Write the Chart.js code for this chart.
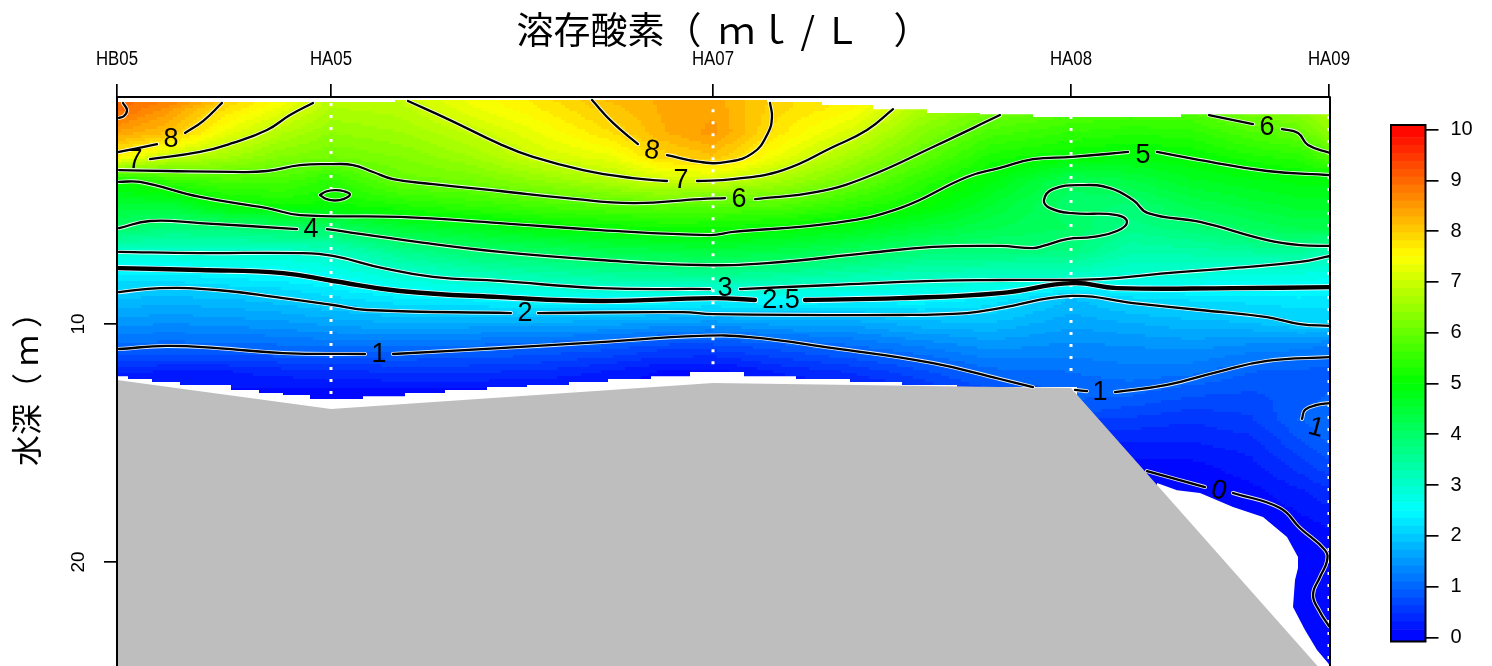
<!DOCTYPE html>
<html>
<head>
<meta charset="utf-8">
<title>溶存酸素</title>
<script src="https://cdn.jsdelivr.net/npm/chart.js@4/dist/chart.umd.min.js"></script>
<style>
  html, body { margin: 0; padding: 0; background: #fff; overflow: hidden; }
  #section { position: absolute; left: 0; top: 0; }
  #colorbar { position: absolute; left: 1380px; top: 0; }
</style>
</head>
<body>
<canvas id="section" width="1492" height="666"></canvas>
<canvas id="colorbar" width="112" height="666"></canvas>
<script>
// ===== AXES =====
const stationNames = ['HB05', 'HA05', 'HA07', 'HA08', 'HA09'];
const stationDist = [0, 214, 596, 954, 1212];
const depthTicks = [10, 20];
const xMin = 0, xMax = 1213;
const depthMin = 0.46, depthMax = 24.37;
const colorTicks = [0, 1, 2, 3, 4, 5, 6, 7, 8, 9, 10];

// white dotted sampling casts (top and bottom depth per station, HB05 has none)
const castDist = [214, 596, 954, 1212];
const castTop = [0.71, 0.97, 1.26, 1.26];
const castBottom = [13.1, 12.0, 12.35, 24.37];

// ===== FIELD =====
const gridDepth = [0.5, 1, 2, 3, 4, 5, 6, 7, 8, 9, 10, 11, 12, 13, 14, 15, 16, 17, 18, 19, 20, 21, 22, 23, 24];
const gridDist = [0, 53, 108, 163, 214, 283, 353, 423, 493, 543, 596, 663, 733, 803, 873, 954, 1013, 1073, 1133, 1183, 1213];
const doColumns = [
  [9.0, 9.0, 8.4, 7.6, 5.1, 4.5, 4.0, 3.0, 2.3, 1.85, 1.45, 1.0, .35, .1],
  [8.9, 8.5, 8.1, 6.9, 5.5, 4.5, 3.8, 3.0, 2.3, 1.8, 1.4, 1.0, .3, .1],
  [8.1, 7.8, 7.3, 6.6, 5.7, 5.0, 3.85, 3.0, 2.4, 1.85, 1.45, 1.0, .3, .1],
  [7.55, 7.3, 6.75, 6.25, 5.7, 5.15, 4.0, 3.0, 2.45, 1.95, 1.5, 1.05, .4, .05],
  [6.85, 6.7, 6.4, 6.1, 5.4, 5.1, 4.05, 3.1, 2.6, 2.1, 1.6, 1.1, .45, .05],
  [6.95, 6.8, 6.55, 6.25, 6.0, 5.3, 4.5, 3.6, 2.9, 2.3, 1.7, 1.1, .5, .05],
  [7.4, 7.3, 6.9, 6.55, 6.1, 5.5, 4.7, 3.9, 3.15, 2.35, 1.65, 1.05, .5, .05],
  [7.75, 7.65, 7.35, 7.05, 6.4, 5.7, 4.95, 4.05, 3.3, 2.5, 1.65, .95, .45, .05],
  [8.2, 8.05, 7.8, 7.3, 6.7, 5.85, 5.05, 4.25, 3.45, 2.55, 1.6, .85, .3, .05],
  [8.3, 8.3, 8.25, 7.85, 7.0, 5.9, 5.15, 4.3, 3.5, 2.5, 1.5, .7, .15, 0],
  [8.35, 8.4, 8.5, 8.1, 6.95, 5.85, 5.15, 4.4, 3.55, 2.45, 1.45, .7, .1, 0],
  [7.9, 7.85, 7.7, 7.3, 6.6, 5.8, 5.0, 4.3, 3.45, 2.5, 1.6, .85, .35, .05],
  [7.6, 7.55, 7.1, 6.6, 6.1, 5.45, 4.8, 4.1, 3.3, 2.45, 1.6, 1.05, .5, .1],
  [6.8, 6.7, 6.3, 5.95, 5.45, 5.1, 4.5, 3.85, 3.15, 2.45, 1.8, 1.25, .75, .4],
  [6.3, 6.2, 5.7, 5.25, 4.9, 4.55, 4.25, 3.8, 3.1, 2.3, 1.85, 1.45, 1.05, .7],
  [5.95, 5.9, 5.45, 5.0, 4.15, 3.95, 4.05, 3.75, 3.05, 1.85, 1.6, 1.35, 1.1, .95],
  [5.9, 5.8, 5.35, 4.9, 4.35, 3.9, 3.65, 3.3, 2.9, 2.1, 1.7, 1.4, 1.2, .95, .6, .3, .1, 0],
  [5.95, 5.85, 5.4, 5.0, 4.65, 4.25, 3.85, 3.35, 2.85, 2.2, 1.8, 1.45, 1.15, .8, .5, .3, .1, 0],
  [6.3, 6.25, 5.75, 5.25, 4.8, 4.45, 4.1, 3.45, 2.75, 2.25, 1.85, 1.35, .95, .75, .6, .4, .25, .1, 0],
  [6.4, 6.4, 5.95, 5.4, 4.9, 4.6, 4.25, 3.5, 2.75, 2.3, 2.0, 1.3, .9, .85, .95, .75, .55, .3, .15, 0, 0, 0, 0, 0, 0],
  [6.9, 6.8, 6.4, 5.8, 4.9, 4.6, 4.25, 3.25, 2.7, 2.25, 2.03, 1.2, .9, .95, 1.1, .95, .75, .45, .25, .1, 0, .05, .05, 0, 0]
];

// ===== BOTTOM AND BLANK AREAS =====
const terrainDist = [0, 214, 596, 954, 1213];
const terrainDepth = [12.35, 13.57, 12.48, 12.69, 24.96];
// [start distance, depth of the data edge]
const surfaceSteps = [[0, .67], [278, .59], [650, .67], [705, .80], [756, .97], [810, 1.13], [863, 1.18], [916, 1.30], [1064, 1.18], [1213, 1.18]];
const floorSteps = [[0, 12.19], [11, 12.31], [35, 12.44], [63, 12.56], [114, 12.77], [142, 12.9], [166, 12.98], [193, 13.15], [246, 13.03], [288, 12.9], [328, 12.77], [370, 12.65], [410, 12.56], [452, 12.44], [491, 12.31], [534, 12.19], [573, 12.02], [627, 12.19], [679, 12.31], [733, 12.44], [785, 12.56], [840, 12.65], [960, 12.65]];
const blankEdge = [[1040, 16.68], [1060, 16.98], [1083, 17.10], [1116, 17.69], [1146, 18.11], [1170, 18.95], [1181, 19.79], [1181, 20.25], [1178, 20.76], [1176, 21.89], [1188, 22.86], [1200, 23.70], [1211, 24.24], [1213, 24.37]];

// ===== CONTOURS =====
const contour9 = [[6, .71], [10, 1.01], [7, 1.26], [2, 1.34]];
const contour8a = [[2, 2.77], [40, 2.44]];
const contour8b = [[68, 1.97], [86, 1.47], [105, .71]];
const contour8c = [[475, .59], [496, 1.55], [521, 2.44]];
const contour8d = [[550, 2.90], [583, 3.19], [610, 3.19], [636, 2.81], [651, 1.97], [655, 1.30], [653, .71]];
const contour7a = [[33, 3.07], [83, 2.77], [116, 2.39], [150, 1.85], [173, 1.22], [196, .71]];
const contour7b = [[291, .63], [333, 1.43], [383, 2.44], [416, 2.98], [466, 3.53], [516, 3.87], [550, 3.99]];
const contour7c = [[580, 3.99], [616, 3.91], [666, 3.53], [716, 2.56], [750, 1.85], [776, .97]];
const contour6a = [[2, 3.53], [50, 3.57], [116, 3.61], [150, 3.57], [183, 3.32], [216, 3.28], [236, 3.32], [256, 3.61], [276, 3.91], [316, 4.12], [383, 4.41], [450, 4.71], [516, 4.92], [583, 4.75], [608, 4.71]];
const contour6b = [[638, 4.75], [700, 4.45], [750, 3.82], [816, 2.56], [883, 1.22]];
const contour6c = [[1092, 1.22], [1136, 1.60]];
const contour6d = [[1165, 1.81], [1181, 1.97], [1191, 2.48], [1213, 2.81]];
const contour5a = [[2, 4.03], [23, 4.03], [83, 4.66], [150, 5.13], [183, 5.42], [283, 5.50], [383, 5.76], [483, 6.05], [593, 6.26], [616, 6.13], [716, 5.76], [783, 5.13], [850, 3.82], [883, 3.44], [916, 3.07], [955, 2.98], [1011, 2.77]];
const contour5b = [[1040, 2.77], [1083, 3.11], [1150, 3.57], [1213, 3.74]];
const contour5e = [[203, 4.58], [209, 4.43], [218, 4.37], [227, 4.42], [233, 4.56], [227, 4.74], [218, 4.81], [209, 4.74], [203, 4.58]];
const contour4a = [[2, 5.97], [33, 5.67], [83, 5.76], [180, 6.01]];
const contour4b = [[210, 6.01], [300, 6.55], [383, 6.97], [483, 7.31], [583, 7.52], [650, 7.44], [750, 7.02], [816, 6.76], [883, 6.72], [916, 6.81], [926, 6.72], [950, 6.43], [976, 6.34], [1000, 6.09], [1010, 5.71], [1000, 5.42], [955, 5.34], [933, 5.13], [927, 4.79], [936, 4.33], [966, 4.16], [993, 4.29], [1016, 4.79], [1031, 5.34], [1083, 5.71], [1150, 6.47], [1183, 6.68], [1213, 6.72]];
const contour3a = [[2, 6.97], [83, 7.02], [183, 7.02], [216, 7.14], [266, 7.65], [316, 8.02], [383, 8.19], [483, 8.49], [593, 8.53]];
const contour3b = [[623, 8.53], [716, 8.36], [816, 8.19], [883, 8.15], [983, 8.11], [1050, 7.86], [1116, 7.65], [1183, 7.39], [1213, 7.14]];
const contour25a = [[2, 7.65], [83, 7.73], [166, 7.86], [216, 8.19], [283, 8.61], [383, 8.87], [483, 9.03], [596, 8.91], [638, 8.99]];
const contour25b = [[688, 8.99], [783, 8.91], [883, 8.70], [955, 8.28], [1000, 8.49], [1116, 8.49], [1213, 8.45]];
const contour2a = [[2, 8.66], [43, 8.49], [100, 8.57], [166, 8.91], [216, 9.20], [250, 9.41], [394, 9.54]];
const contour2b = [[421, 9.54], [566, 9.50], [596, 9.58], [783, 9.62], [850, 9.54], [883, 9.33], [955, 8.82], [1016, 9.12], [1083, 9.41], [1150, 9.71], [1183, 10], [1213, 10.08]];
const contour1a = [[2, 11.05], [50, 10.92], [100, 11.01], [166, 11.22], [248, 11.26]];
const contour1b = [[276, 11.26], [383, 11.01], [483, 10.76], [583, 10.50], [633, 10.55], [716, 11.01], [816, 11.64], [883, 12.31], [916, 12.65]];
const contour1c = [[958, 12.77], [970, 12.82]];
const contour1d = [[998, 12.86], [1050, 12.56], [1100, 12.02], [1150, 11.55], [1213, 11.39]];
const contour1e = [[1185, 13.99], [1188, 13.61], [1200, 13.40], [1213, 13.32]];
const contour0a = [[1030, 16.18], [1088, 16.85]];
const contour0b = [[1116, 17.10], [1163, 17.73], [1183, 18.57], [1208, 19.50], [1210, 19.96], [1203, 20.63], [1196, 21.39], [1203, 22.10], [1212, 22.69]];

const thinContours = [contour9, contour8a, contour8b, contour8c, contour8d, contour7a, contour7b, contour7c,
  contour6a, contour6b, contour6c, contour6d, contour5a, contour5b, contour5e, contour4a, contour4b,
  contour3a, contour3b, contour2a, contour2b, contour1a, contour1b, contour1c, contour1d, contour1e, contour0a, contour0b];
const thickContours = [contour25a, contour25b];

// [text, distance, depth, rotation in degrees]
const contourLabels = [
  ['8', 54, 2.23, 0], ['7', 18, 3.15, 0], ['8', 535, 2.73, 10], ['7', 564, 3.99, 0], ['6', 622, 4.75, 0],
  ['5', 1026, 2.90, 0], ['6', 1150, 1.76, 0], ['4', 194, 6.01, 0], ['3', 608, 8.53, 0], ['2.5', 664, 9.03, 0],
  ['2', 408, 9.58, 0], ['1', 262, 11.30, 0], ['1', 983, 12.86, 0], ['1', 1199, 14.37, 15], ['0', 1102, 17.02, 15]
];

// ===== COLOURS =====
const colorLevels = 64;
function rampColor(v) {
  const stops = [[0, 0, 255], [0, 255, 255], [0, 255, 0], [255, 255, 0], [255, 0, 0]];
  const t = Math.min(Math.max(v / 10, 0), 1) * 4;
  const i = Math.min(Math.floor(t), 3), f = t - i;
  const c = stops[i].map((s, k) => Math.round(s + (stops[i + 1][k] - s) * f));
  return `rgb(${c[0]},${c[1]},${c[2]})`;
}
const levelColors = [];
for (let i = 0; i < colorLevels; i++) levelColors.push(rampColor((i + 0.5) * 10 / colorLevels));

function bracket(list, v) {
  let i = 0;
  while (i < list.length - 2 && v > list[i + 1]) i++;
  return [i, Math.min(Math.max((v - list[i]) / (list[i + 1] - list[i]), 0), 1)];
}

function fieldAt(dist, depth) {
  const [c, fc] = bracket(gridDist, dist);
  const [r, fr] = bracket(gridDepth, depth);
  const corners = [
    [doColumns[c][r], (1 - fc) * (1 - fr)], [doColumns[c + 1][r], fc * (1 - fr)],
    [doColumns[c][r + 1], (1 - fc) * fr], [doColumns[c + 1][r + 1], fc * fr]
  ];
  let sum = 0, weight = 0;
  corners.forEach(([v, w]) => { if (v !== undefined) { sum += v * w; weight += w; } });
  return weight > 0 ? sum / weight : 0;
}

// ===== PLUGINS =====
const fieldCells = {
  id: 'fieldCells',
  beforeDatasetsDraw(chart) {
    const { ctx, chartArea, scales: { x, y } } = chart;
    const stepDist = 4, stepDepth = 0.125;
    ctx.save();
    ctx.beginPath();
    ctx.rect(chartArea.left, chartArea.top, chartArea.width, chartArea.height);
    ctx.clip();
    for (let d = xMin; d < xMax; d += stepDist) {
      const x0 = Math.floor(x.getPixelForValue(d));
      const x1 = Math.ceil(x.getPixelForValue(d + stepDist));
      for (let z = depthMin; z < depthMax; z += stepDepth) {
        const y0 = Math.floor(y.getPixelForValue(z));
        const y1 = Math.ceil(y.getPixelForValue(z + stepDepth));
        const v = fieldAt(d + stepDist / 2, z + stepDepth / 2);
        const level = Math.min(Math.max(Math.floor(v / 10 * colorLevels), 0), colorLevels - 1);
        ctx.fillStyle = levelColors[level];
        ctx.fillRect(x0, y0, x1 - x0, y1 - y0);
      }
    }
    ctx.restore();
  }
};

const labelText = {
  id: 'labelText',
  afterDatasetsDraw(chart) {
    const { ctx, scales: { x, y } } = chart;
    ctx.save();
    ctx.fillStyle = '#000';
    ctx.font = '27px "Liberation Sans"';
    ctx.textAlign = 'center';
    ctx.textBaseline = 'middle';
    contourLabels.forEach(([text, dist, depth, rot]) => {
      ctx.save();
      ctx.translate(x.getPixelForValue(dist), y.getPixelForValue(depth));
      ctx.rotate(rot * Math.PI / 180);
      ctx.fillText(text, 0, 0);
      ctx.restore();
    });
    // station names are condensed in the original, no narrow font here
    ctx.font = '20px "Liberation Sans"';
    stationDist.forEach((d, i) => {
      ctx.save();
      ctx.translate(x.getPixelForValue(d), x.bottom - 38);
      ctx.scale(0.84, 1);
      ctx.fillText(stationNames[i], 0, 0);
      ctx.restore();
    });
    ctx.restore();
  }
};

// right edge of the plot, the top and left edges are the axes
const rightEdge = {
  id: 'rightEdge',
  afterDraw(chart) {
    const { ctx, chartArea } = chart;
    ctx.save();
    ctx.strokeStyle = '#000';
    ctx.lineWidth = 2;
    ctx.beginPath();
    ctx.moveTo(chartArea.right, chartArea.top);
    ctx.lineTo(chartArea.right, chartArea.bottom);
    ctx.stroke();
    ctx.restore();
  }
};

const frameBox = {
  id: 'frameBox',
  afterDraw(chart) {
    const { ctx, chartArea } = chart;
    ctx.save();
    ctx.strokeStyle = '#000';
    ctx.lineWidth = 2;
    ctx.strokeRect(chartArea.left, chartArea.top, chartArea.width, chartArea.height);
    ctx.restore();
  }
};

// ===== DATASETS =====
const toPoints = list => list.map(([px, py]) => ({ x: px, y: py }));

function stepPoints(steps) {
  const out = [];
  steps.forEach(([d, z], i) => {
    out.push({ x: d, y: z });
    if (i < steps.length - 1) out.push({ x: steps[i + 1][0], y: z });
  });
  return out;
}

const datasets = [];
datasets.push({ data: stepPoints(surfaceSteps), borderWidth: 0, backgroundColor: '#fff', fill: { value: depthMin }, order: 60 });
datasets.push({ data: stepPoints(floorSteps), borderWidth: 0, backgroundColor: '#fff', fill: { value: depthMax }, order: 60 });
datasets.push({ data: toPoints(blankEdge), borderWidth: 0, backgroundColor: '#fff', fill: { value: depthMax }, order: 60 });
datasets.push({
  data: terrainDist.map((d, i) => ({ x: d, y: terrainDepth[i] })),
  borderWidth: 0, backgroundColor: '#bebebe', fill: { value: depthMax }, order: 50
});
castDist.forEach((d, i) => {
  datasets.push({
    data: [{ x: d, y: castTop[i] }, { x: d, y: castBottom[i] }],
    borderColor: '#fff', borderWidth: 3, borderDash: [3, 9], fill: false, order: 40
  });
});
function addContour(list, haloWidth, lineWidth) {
  const base = { data: toPoints(list), fill: false, tension: 0.45, borderCapStyle: 'round' };
  datasets.push({ ...base, borderColor: 'rgba(255,255,255,0.9)', borderWidth: haloWidth, order: 30 });
  datasets.push({ ...base, borderColor: '#000', borderWidth: lineWidth, order: 20 });
}
thinContours.forEach(c => addContour(c, 4, 2.3));
thickContours.forEach(c => addContour(c, 6, 4.4));

// ===== SECTION CHART =====
new Chart(document.getElementById('section'), {
  type: 'line',
  data: { datasets },
  plugins: [fieldCells, labelText, rightEdge],
  options: {
    responsive: false,
    animation: false,
    events: [],
    layout: { padding: { left: 0, top: 0, right: 162, bottom: 0 } },
    elements: { point: { radius: 0 } },
    plugins: {
      legend: { display: false },
      tooltip: { enabled: false },
      title: {
        display: true,
        fullSize: false,
        text: '溶存酸素（  ｍｌ / Ｌ    ）',
        color: '#000',
        font: { family: '"Noto Sans CJK JP"', size: 37, weight: 'normal' },
        padding: { top: 8, bottom: 0 }
      }
    },
    scales: {
      x: {
        type: 'linear',
        position: 'top',
        min: xMin,
        max: xMax,
        afterFit(scale) { scale.height = 44.6; scale.paddingLeft = 0; scale.paddingRight = 0; },
        afterBuildTicks(scale) { scale.ticks = stationDist.map(v => ({ value: v })); },
        grid: { drawOnChartArea: false, color: '#000', lineWidth: 1.7, tickLength: 13 },
        border: { color: '#000', width: 2, z: 1 },
        ticks: { display: false, autoSkip: false, maxRotation: 0 }
      },
      y: {
        type: 'linear',
        reverse: true,
        min: depthMin,
        max: depthMax,
        afterFit(scale) { scale.width = 117; scale.paddingTop = 0; scale.paddingBottom = 0; },
        afterBuildTicks(scale) { scale.ticks = depthTicks.map(v => ({ value: v })); },
        title: {
          display: true,
          text: '水深（ ｍ ）',
          color: '#000',
          font: { family: '"Noto Sans CJK JP"', size: 31, weight: 'normal' },
          padding: { top: 8, bottom: 0 }
        },
        grid: { drawOnChartArea: false, color: '#000', lineWidth: 1.7, tickLength: 13 },
        border: { color: '#000', width: 2, z: 1 },
        ticks: {
          color: '#000',
          padding: 15,
          minRotation: 90,
          maxRotation: 90,
          crossAlign: 'center',
          font: { family: '"Liberation Sans"', size: 19 }
        }
      }
    }
  }
});

// ===== COLOUR BAR =====
const barMin = -0.08, barMax = 10.09;
const barDatasets = levelColors.map((color, i) => ({
  data: [[i === 0 ? barMin : i * 10 / colorLevels, i === colorLevels - 1 ? barMax : (i + 1) * 10 / colorLevels]],
  backgroundColor: color,
  grouped: false,
  barPercentage: 1,
  categoryPercentage: 1
}));

new Chart(document.getElementById('colorbar'), {
  type: 'bar',
  data: { labels: ['DO'], datasets: barDatasets },
  plugins: [frameBox],
  options: {
    responsive: false,
    animation: false,
    events: [],
    layout: { padding: { left: 11, top: 125, right: 0, bottom: 24.5 } },
    plugins: { legend: { display: false }, tooltip: { enabled: false }, title: { display: false } },
    scales: {
      x: { display: false },
      y: {
        position: 'right',
        min: barMin,
        max: barMax,
        afterFit(scale) { scale.width = 66.5; scale.paddingTop = 0; scale.paddingBottom = 0; },
        afterBuildTicks(scale) { scale.ticks = colorTicks.map(v => ({ value: v })); },
        grid: { drawOnChartArea: false, color: '#000', lineWidth: 1.7, tickLength: 13 },
        border: { display: false },
        ticks: { color: '#000', padding: 12, font: { family: '"Liberation Sans"', size: 20 } }
      }
    }
  }
});
</script>
</body>
</html>
